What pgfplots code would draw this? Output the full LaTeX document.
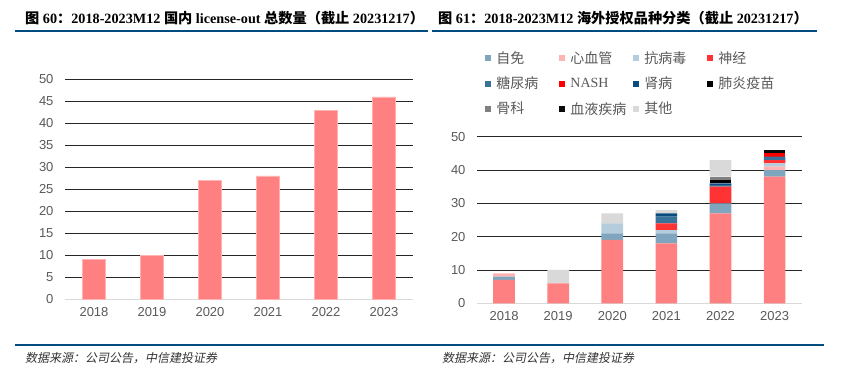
\documentclass[border=0pt]{standalone}
\usepackage{fontspec}
\usepackage{pgfplots}
\usepackage{pgfplotstable}
\pgfplotsset{compat=1.18}
\setmainfont{Liberation Sans}
\newfontfamily\cjk{Noto Sans CJK SC}
\newfontfamily\cjkit{Noto Sans CJK SC}[FakeSlant=0.2]
\newfontfamily\tms{Liberation Serif}

\definecolor{tick}{RGB}{89,89,89}
\definecolor{blueline}{RGB}{0,76,126}
\definecolor{onc}{RGB}{255,128,128}
\definecolor{cZM}{RGB}{127,166,190}
\definecolor{cXX}{RGB}{255,180,180}
\definecolor{cKB}{RGB}{180,204,219}
\definecolor{cSJ}{RGB}{255,51,51}
\definecolor{cTN}{RGB}{57,114,153}
\definecolor{cNA}{RGB}{255,0,0}
\definecolor{cSB}{RGB}{10,76,126}
\definecolor{cFY}{RGB}{0,0,0}
\definecolor{cGK}{RGB}{128,128,128}
\definecolor{cXY}{RGB}{10,10,10}
\definecolor{cQT}{RGB}{217,217,217}
\definecolor{axisgray}{RGB}{217,217,217}

\pgfplotstableread{
x total
0 9
1 10
2 27
3 28
4 43
5 46
}\totaltab

\pgfplotstableread{
x onc zm xx kb sj tn na sb fy gk xy qt
0 7 1 1 0 0 0 0 0 0 0 0 0
1 6 0 0 0 0 0 0 0 0 0 0 4
2 19 2 0 3 0 0 0 0 0 0 0 3
3 18 3 0 1 2 2 0 1 0 0 0 1
4 27 3 0 0 5 0.5 0 0.5 1 1 0 5
5 38 2 1 1 1 1 1 0 0 0 1 0
}\cattab

\newcommand{\LE}[1]{\makebox[57pt][l]{\cjk #1}}

\begin{document}
\begin{tikzpicture}
\useasboundingbox (0pt,0pt) rectangle (852pt,376pt);

\pgfplotsset{
  base/.style={
    scale only axis,
    xmin=-0.5, xmax=5.5,
    ymin=0, ymax=50,
    xtick={0,1,2,3,4,5},
    xticklabels={2018,2019,2020,2021,2022,2023},
    major tick length=0pt,
    axis x line*=bottom,
    axis y line*=left,
    y axis line style={draw=none},
    x axis line style={draw=axisgray, line width=1pt},
    ymajorgrids,
    grid style={black!85, line width=0.55pt, dash pattern=on 0.5pt off 0.5pt},
    tick label style={font=\fontsize{13}{15}\selectfont, text=tick},
    /pgf/number format/assume math mode=true,
    xticklabel style={yshift=-5pt},
    yticklabel style={xshift=-8pt},
    bar width=0.4,
  },
  seg/.style={fill=#1, draw=none},
}

\begin{axis}[base,
  at={(65pt,77pt)}, anchor=south west, width=348pt, height=219.7pt,
  ytick={0,5,...,50}, ybar]
\addplot[fill=onc, draw=onc!60!white, line width=0.5pt] table[x=x,y=total]{\totaltab};
\end{axis}

\begin{axis}[base,
  at={(477pt,72.7pt)}, anchor=south west, width=324.7pt, height=166.6pt,
  ytick={0,10,...,50}, ybar stacked,
  legend columns=4,
  legend image code/.code={\fill[#1] (0pt,-3pt) rectangle (6pt,3pt);},
  legend style={draw=none, fill=none, at={(0.016,1.525)}, anchor=north west,
     font=\fontsize{14}{16}\selectfont, text=tick,
     nodes={inner sep=0pt}, row sep=12pt,
     /tikz/every odd column/.append style={column sep=5pt},
     /tikz/every even column/.append style={column sep=6pt}},
  legend cell align=left,
  ]
\addplot[seg=onc, forget plot] table[x=x,y=onc]{\cattab};
\addplot[seg=cZM] table[x=x,y=zm]{\cattab};
\addlegendentry{\LE{自免}}
\addplot[seg=cXX] table[x=x,y=xx]{\cattab};
\addlegendentry{\LE{心血管}}
\addplot[seg=cKB] table[x=x,y=kb]{\cattab};
\addlegendentry{\LE{抗病毒}}
\addplot[seg=cSJ] table[x=x,y=sj]{\cattab};
\addlegendentry{\LE{神经}}
\addplot[seg=cTN] table[x=x,y=tn]{\cattab};
\addlegendentry{\LE{糖尿病}}
\addplot[seg=cNA] table[x=x,y=na]{\cattab};
\addlegendentry{\makebox[57pt][l]{\tms NASH}}
\addplot[seg=cSB] table[x=x,y=sb]{\cattab};
\addlegendentry{\LE{肾病}}
\addplot[seg=cFY] table[x=x,y=fy]{\cattab};
\addlegendentry{\LE{肺炎疫苗}}
\addplot[seg=cGK] table[x=x,y=gk]{\cattab};
\addlegendentry{\LE{骨科}}
\addplot[seg=cXY] table[x=x,y=xy]{\cattab};
\addlegendentry{\LE{血液疾病}}
\addplot[seg=cQT] table[x=x,y=qt]{\cattab};
\addlegendentry{\LE{其他}}
\end{axis}

% titles
\node[anchor=west, inner sep=0pt, font=\fontsize{14.2}{16}\selectfont] at (25pt,358pt)
  {{\cjk\bfseries 图}{\tms\bfseries\ 60}{\cjk\bfseries ：}{\tms\bfseries 2018-2023M12 }{\cjk\bfseries 国内}{\tms\bfseries\ license-out }{\cjk\bfseries 总数量（截止}{\tms\bfseries\ 20231217}{\cjk\bfseries ）}};
\node[anchor=west, inner sep=0pt, font=\fontsize{14.2}{16}\selectfont] at (438pt,358pt)
  {{\cjk\bfseries 图}{\tms\bfseries\ 61}{\cjk\bfseries ：}{\tms\bfseries 2018-2023M12 }{\cjk\bfseries 海外授权品种分类（截止}{\tms\bfseries\ 20231217}{\cjk\bfseries ）}};
\draw[blueline, line width=2pt] (15pt,345pt) -- (428pt,345pt);
\draw[blueline, line width=2pt] (432pt,345pt) -- (817pt,345pt);
\draw[blueline, line width=2pt] (15pt,31pt) -- (824pt,31pt);
\node[anchor=west, inner sep=0pt, font=\fontsize{12}{14}\selectfont, text=black!80] at (25pt,18pt) {\cjkit 数据来源：公司公告，中信建投证券};
\node[anchor=west, inner sep=0pt, font=\fontsize{12}{14}\selectfont, text=black!80] at (442pt,18pt) {\cjkit 数据来源：公司公告，中信建投证券};
\end{tikzpicture}
\end{document}
